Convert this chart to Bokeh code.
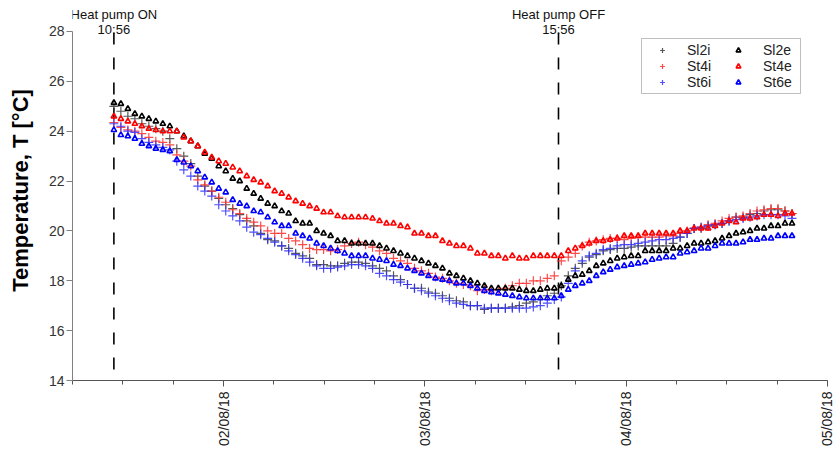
import math
import pandas as pd
from bokeh.plotting import figure
from bokeh.models import (Legend, LegendItem, FixedTicker,
                          DatetimeTickFormatter, Range1d)
from bokeh.core.properties import value
from bokeh.embed import file_html
from bokeh.resources import INLINE

# ---------------- data ----------------
start_time = "2018-08-01 10:56"
step = "50min"

sl2i = [25.0, 24.8, 24.6, 24.5, 24.3, 24.2, 24.1, 24.0, 23.7, 23.3,
        23.0, 22.7, 22.2, 21.8, 21.6, 21.3, 21.05, 20.9, 20.65, 20.4,
        20.2, 19.9, 19.65, 19.6, 19.4, 19.3, 19.1, 19.0, 18.9, 18.65,
        18.65, 18.6, 18.6, 18.7, 18.75, 18.75, 18.7, 18.6, 18.5, 18.4,
        18.2, 18.05, 17.85, 17.7, 17.7, 17.55, 17.5, 17.4, 17.3, 17.2,
        17.15, 17.0, 17.0, 16.85, 16.9, 16.9, 16.9, 16.95, 17.0, 17.1,
        17.15, 17.25, 17.4, 17.5, 17.8, 18.2, 18.5, 18.7, 18.95, 19.05,
        19.2, 19.25, 19.3, 19.3, 19.35, 19.4, 19.4, 19.4, 19.4, 19.4,
        19.5, 19.75, 19.9, 20.1, 20.1, 20.2, 20.25, 20.3, 20.4, 20.55,
        20.55, 20.65, 20.7, 20.8, 20.85, 20.85, 20.8, 20.7]

st4i = [24.35, 24.15, 24.05, 24.0, 23.9, 23.75, 23.6, 23.55, 23.45, 23.05,
        22.8, 22.6, 22.05, 21.85, 21.6, 21.35, 21.15, 20.85, 20.7, 20.5,
        20.35, 20.2, 20.0, 19.9, 19.9, 19.7, 19.6, 19.45, 19.3, 19.25,
        19.25, 19.2, 19.25, 19.4, 19.5, 19.55, 19.45, 19.35, 19.2, 19.1,
        18.9, 18.8, 18.7, 18.5, 18.4, 18.3, 18.15, 18.1, 18.0, 17.9,
        17.85, 17.8, 17.6, 17.65, 17.6, 17.65, 17.7, 17.8, 17.9, 17.9,
        18.0, 18.0, 18.1, 18.2, 18.8, 18.95, 19.1, 19.4, 19.55, 19.6,
        19.65, 19.7, 19.7, 19.65, 19.7, 19.75, 19.75, 19.75, 19.75, 19.8,
        19.8, 19.9, 20.0, 20.1, 20.15, 20.25, 20.3, 20.4, 20.5, 20.55,
        20.6, 20.7, 20.8, 20.85, 20.9, 20.9, 20.8, 20.7]

st6i = [24.3, 24.2, 24.0, 23.95, 23.7, 23.55, 23.45, 23.35, 23.25, 22.8,
        22.45, 22.2, 21.8, 21.6, 21.4, 21.05, 20.8, 20.6, 20.4, 20.15,
        19.95, 19.85, 19.7, 19.55, 19.4, 19.2, 19.05, 18.9, 18.75, 18.6,
        18.5, 18.5, 18.55, 18.6, 18.65, 18.65, 18.6, 18.5, 18.3, 18.2,
        18.05, 17.95, 17.85, 17.7, 17.6, 17.5, 17.4, 17.3, 17.2, 17.1,
        17.05, 17.0, 17.0, 16.9, 16.9, 16.9, 16.9, 16.9, 16.9, 16.9,
        16.95, 17.0, 17.1, 17.25, 17.35, 17.9, 18.4, 18.8, 19.0, 19.1,
        19.25, 19.3, 19.4, 19.45, 19.45, 19.5, 19.55, 19.6, 19.65, 19.65,
        19.7, 19.75, 19.9, 20.1, 20.15, 20.2, 20.25, 20.3, 20.4, 20.45,
        20.5, 20.55, 20.6, 20.65, 20.65, 20.65, 20.6, 20.5]

sl2e = [25.14, 25.1, 24.9, 24.7, 24.6, 24.5, 24.4, 24.3, 24.2, 24.0,
        23.8, 23.6, 23.4, 23.1, 22.9, 22.6, 22.4, 22.1, 22.0, 21.7,
        21.5, 21.3, 21.1, 21.0, 20.8, 20.7, 20.4, 20.3, 20.3, 20.0,
        19.9, 19.8, 19.6, 19.6, 19.5, 19.5, 19.5, 19.5, 19.4, 19.3,
        19.2, 19.1, 19.0, 18.9, 18.8, 18.7, 18.6, 18.5, 18.3, 18.2,
        18.1, 18.0, 17.9, 17.8, 17.7, 17.7, 17.7, 17.7, 17.65, 17.6,
        17.6, 17.65, 17.7, 17.7, 17.8, 18.05, 18.2, 18.25, 18.4, 18.6,
        18.7, 18.8, 18.9, 18.95, 19.0, 19.0, 19.2, 19.2, 19.2, 19.2,
        19.3, 19.3, 19.4, 19.5, 19.5, 19.55, 19.6, 19.7, 19.8, 19.9,
        19.95, 20.0, 20.1, 20.1, 20.2, 20.2, 20.3, 20.3]

st4e = [24.6, 24.5, 24.4, 24.3, 24.2, 24.1, 24.05, 24.0, 24.0, 24.0,
        23.75, 23.6, 23.4, 23.15, 22.95, 22.8, 22.7, 22.55, 22.4, 22.2,
        22.05, 21.95, 21.8, 21.6, 21.5, 21.35, 21.2, 21.1, 21.0, 20.9,
        20.75, 20.75, 20.6, 20.55, 20.55, 20.55, 20.55, 20.5, 20.4, 20.3,
        20.3, 20.2, 20.15, 19.9, 19.9, 19.8, 19.8, 19.6, 19.5, 19.4,
        19.4, 19.3, 19.1, 19.1, 19.0, 19.0, 18.9, 19.0, 18.9, 18.9,
        19.0, 19.0, 19.0, 19.0, 19.0, 19.2, 19.3, 19.4, 19.5, 19.6,
        19.6, 19.65, 19.7, 19.8, 19.8, 19.8, 19.9, 19.9, 19.9, 19.9,
        19.9, 20.0, 20.0, 20.1, 20.1, 20.1, 20.2, 20.3, 20.4, 20.35,
        20.5, 20.5, 20.55, 20.65, 20.65, 20.6, 20.7, 20.7]

st6e = [24.05, 23.85, 23.8, 23.7, 23.5, 23.4, 23.3, 23.25, 23.2, 22.85,
        22.75, 22.6, 22.4, 22.15, 21.95, 21.7, 21.55, 21.25, 21.1, 21.0,
        20.8, 20.75, 20.55, 20.35, 20.2, 20.2, 19.9, 19.8, 19.7, 19.5,
        19.4, 19.3, 19.2, 19.1, 19.0, 19.0, 19.0, 18.9, 18.85, 18.8,
        18.65, 18.6, 18.5, 18.4, 18.3, 18.2, 18.1, 18.05, 18.0, 17.9,
        17.9, 17.8, 17.7, 17.6, 17.55, 17.5, 17.45, 17.4, 17.35, 17.3,
        17.3, 17.3, 17.3, 17.3, 17.4, 17.65, 17.8, 17.9, 18.0, 18.2,
        18.35, 18.45, 18.55, 18.6, 18.65, 18.7, 18.75, 18.85, 18.9, 18.95,
        18.95, 19.1, 19.15, 19.2, 19.3, 19.3, 19.4, 19.5, 19.5, 19.5,
        19.55, 19.65, 19.65, 19.7, 19.7, 19.8, 19.8, 19.8]

event_times = ["2018-08-01 10:56", "2018-08-03 15:56"]
event_titles = ["Heat pump ON", "Heat pump OFF"]
event_clock = ["10:56", "15:56"]

x_start = "2018-08-01 06:00"
x_end = "2018-08-05 00:00"
day_ticks = ["2018-08-02", "2018-08-03", "2018-08-04", "2018-08-05"]
minor_step = "6h"
y_ticks = [14, 16, 18, 20, 22, 24, 26, 28]

# ---------------- figure ----------------
FONT = "Liberation Sans"
times = pd.date_range(start_time, periods=len(sl2e), freq=step)
ev = [pd.Timestamp(t) for t in event_times]
y_lo, y_hi = min(y_ticks), max(y_ticks)

def ms(t):
    return pd.Timestamp(t).value / 1e6

# frame reaches the top of the canvas; the axis itself stops at 28
FRAME_TOP_PAD = 31   # pixels between the 28 line and the frame top
PX_PER_UNIT = 24.93
p = figure(width=834, height=454, x_axis_type="datetime",
           output_backend="svg", toolbar_location=None,
           x_range=Range1d(pd.Timestamp(x_start), pd.Timestamp(x_end)),
           y_range=Range1d(y_lo, y_hi + FRAME_TOP_PAD / PX_PER_UNIT),
           min_border_left=72, min_border_right=7,
           min_border_top=0, min_border_bottom=74)
p.outline_line_color = None
p.grid.visible = False
p.background_fill_color = "white"

# event lines (dashed) and their texts
p.segment(x0=ev, y0=[y_lo] * len(ev), x1=ev, y1=[y_hi] * len(ev),
          line_color="black", line_width=1.6, line_dash="12 13",
          line_dash_offset=14)
p.text(x=ev, y=[y_hi] * len(ev), text=event_titles, y_offset=-9,
       text_align="center", text_baseline="bottom",
       text_font=value(FONT), text_font_size="13px", text_color="#111111")
p.text(x=ev, y=[y_hi] * len(ev), text=event_clock, y_offset=6,
       text_align="center", text_baseline="bottom",
       text_font=value(FONT), text_font_size="13px", text_color="#111111")

series = [
    ("Sl2i", sl2i, "cross", "#3a3a3a"),
    ("St4i", st4i, "cross", "#ff2a2a"),
    ("St6i", st6i, "cross", "#3030ff"),
    ("Sl2e", sl2e, "triangle", "#000000"),
    ("St4e", st4e, "triangle", "#ff0000"),
    ("St6e", st6e, "triangle", "#0000ff"),
]
renderers = {}
for name, vals, marker, col in series:
    if marker == "cross":
        r = p.scatter(times, vals, marker="cross", size=9, line_color=col,
                      line_width=1.2, line_alpha=0.85)
    else:
        r = p.scatter(times, vals, marker="triangle", size=5.5, line_color=col,
                      fill_color=None, line_width=1.6)
    renderers[name] = r

# axes
xa = p.xaxis[0]
minor = [ms(t) for t in pd.date_range(x_start, x_end, freq=minor_step)]
xa.ticker = FixedTicker(ticks=[ms(d) for d in day_ticks], minor_ticks=minor)
fmt = "%d/%m/%y"
xa.formatter = DatetimeTickFormatter(days=fmt, hours=fmt, months=fmt, hourmin=fmt,
                                     minutes=fmt, years=fmt, milliseconds=fmt,
                                     seconds=fmt, minsec=fmt)
xa.major_label_orientation = math.pi / 2
xa.major_label_text_font = FONT
xa.major_label_text_font_size = "14px"
xa.major_label_text_color = "#222222"
xa.axis_line_color = "#555555"
xa.major_tick_line_color = "#555555"
xa.minor_tick_line_color = "#555555"
xa.major_tick_out = 6
xa.major_tick_in = 0
xa.minor_tick_out = 4
xa.minor_tick_in = 0

ya = p.yaxis[0]
ya.ticker = FixedTicker(ticks=y_ticks)
ya.bounds = (y_lo, y_hi)
ya.axis_label = "Temperature, T [°C]"
ya.axis_label_text_font = FONT
ya.axis_label_text_font_style = "bold"
ya.axis_label_text_font_size = "22px"
ya.axis_label_text_color = "#000000"
ya.axis_label_standoff = 13
ya.major_label_standoff = 2
ya.major_label_text_font = FONT
ya.major_label_text_font_size = "14px"
ya.major_label_text_color = "#333333"
ya.axis_line_color = "#808080"
ya.major_tick_line_color = "#808080"
ya.major_tick_out = 6
ya.major_tick_in = 0
ya.minor_tick_line_color = None

legend = Legend(items=[LegendItem(label=n, renderers=[renderers[n]])
                       for n in ["Sl2i", "St4i", "St6i", "Sl2e", "St4e", "St6e"]],
                ncols=2, location=(569, 286))
legend.label_text_font = FONT
legend.label_text_font_size = "14px"
legend.label_text_color = "#222222"
legend.glyph_width = 34
legend.glyph_height = 12
legend.label_width = 34
legend.label_standoff = 8
legend.spacing = 0
legend.padding = 3
legend.margin = 0
legend.border_line_color = "#7f7f7f"
legend.border_line_width = 1
legend.background_fill_alpha = 1
p.add_layout(legend)

open("out.html", "w").write(file_html(p, INLINE))
